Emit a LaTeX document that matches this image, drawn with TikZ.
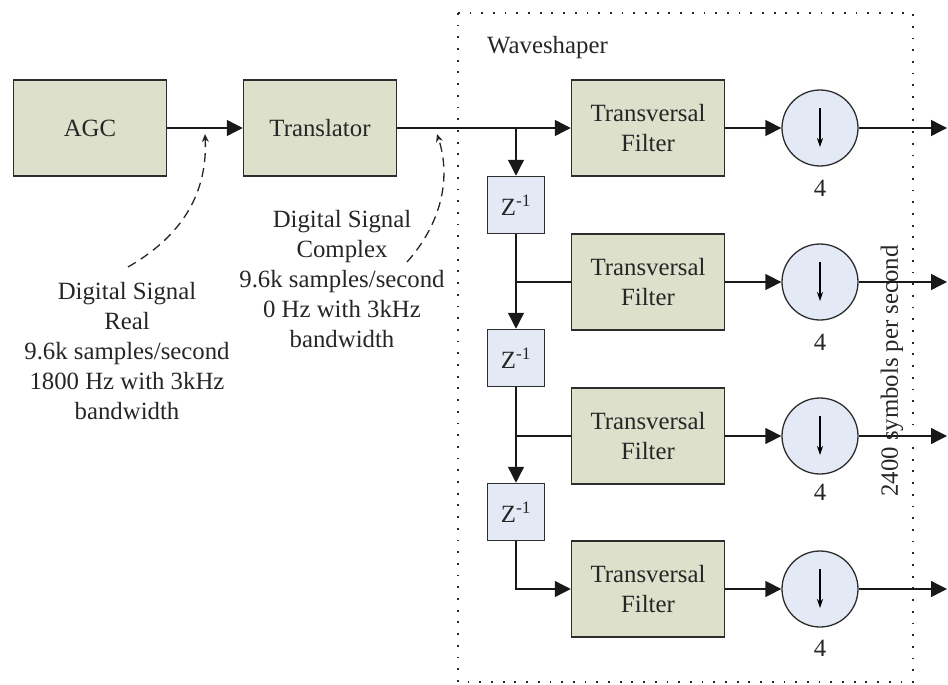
\documentclass[tikz,border=0pt]{standalone}
\usepackage{fontspec}
\setmainfont{Liberation Serif}
\usetikzlibrary{arrows.meta}
\definecolor{filtfill}{RGB}{221,225,203}
\definecolor{zfill}{RGB}{227,234,246}
\definecolor{edgec}{RGB}{45,45,45}
\begin{document}
\begin{tikzpicture}[x=1pt,y=-1pt,
  txt/.style={font=\fontsize{24.8}{30}\selectfont, text=black!85, inner sep=0pt},
  blk/.style={draw=edgec, line width=1.5pt, fill=filtfill, minimum width=153pt, minimum height=96pt, txt, align=center},
  zbox/.style={draw=edgec, line width=1.5pt, fill=zfill, minimum width=57pt, minimum height=57pt, txt},
  dec/.style={circle, draw=edgec, line width=1.3pt, fill=zfill, minimum size=76pt, inner sep=0pt},
  conn/.style={line width=1.4pt, draw=black!90},
  arr/.style={conn, -{Triangle[length=16pt,width=16pt]}},
  dots/.style={line width=1.8pt, dash pattern=on 1.8pt off 9.9pt, draw=black!85},
  callout/.style={line width=1.3pt, dash pattern=on 9pt off 6pt, draw=black!85, -{Stealth[length=8pt,width=7pt]}},
  down/.style={line width=1.1pt, -{Stealth[length=9pt,width=6pt]}}]
\useasboundingbox (0,0) rectangle (948,685);
% waveshaper frame
\coordinate (wa) at (458,13);
\coordinate (wb) at (913,682);
\draw[dots] (wa) rectangle (wb);
\node[txt, anchor=west] (ws) at (487,48) {Waveshaper};
% blocks
\node[blk] (agc) at (90,128) {AGC};
\node[blk] (tr) at (320,128) {Translator};
\node[blk] (f1) at (648,128) {Transversal\\Filter};
\node[blk] (f2) at (648,282) {Transversal\\Filter};
\node[blk] (f3) at (648,436) {Transversal\\Filter};
\node[blk] (f4) at (648,589) {Transversal\\Filter};
\node[zbox] (z1) at (516,205) {Z\textsuperscript{-1}};
\node[zbox] (z2) at (516,358) {Z\textsuperscript{-1}};
\node[zbox] (z3) at (516,512) {Z\textsuperscript{-1}};
\node[dec] (c1) at (820,128) {};
\node[dec] (c2) at (820,282) {};
\node[dec] (c3) at (820,436) {};
\node[dec] (c4) at (820,589) {};
\foreach \c in {c1,c2,c3,c4}{
  \draw[down] ([yshift=20pt]\c.center) -- ([yshift=-19pt]\c.center);
}
\node[txt] (n1) at (820,188) {4};
\node[txt] (n2) at (820,342) {4};
\node[txt] (n3) at (820,492) {4};
\node[txt] (n4) at (820,648) {4};
% junctions and outputs
\coordinate (j1) at (516,128);
\coordinate (j2) at (516,282);
\coordinate (j3) at (516,436);
\coordinate (o1) at (947,128);
\coordinate (o2) at (947,282);
\coordinate (o3) at (947,436);
\coordinate (o4) at (947,589);
% connectors
\draw[arr] (agc) -- (tr);
\draw[arr] (tr) -- (f1);
\draw[arr] (j1) -- (z1);
\draw[arr] (z1) -- (z2);
\draw[conn] (j2) -- (f2);
\draw[arr] (z2) -- (z3);
\draw[conn] (j3) -- (f3);
\draw[arr] (z3) |- (f4);
\draw[arr] (f1) -- (c1);
\draw[arr] (f2) -- (c2);
\draw[arr] (f3) -- (c3);
\draw[arr] (f4) -- (c4);
\draw[arr] (c1) -- (o1);
\draw[arr] (c2) -- (o2);
\draw[arr] (c3) -- (o3);
\draw[arr] (c4) -- (o4);
% rate label
\node[txt, rotate=90] (rate) at (892,371) {2400 symbols per second};
% annotations
\node[txt, align=center] (real) at (127,351.5) {Digital Signal\\Real\\9.6k samples/second\\1800 Hz with 3kHz\\bandwidth};
\node[txt, align=center] (cplx) at (342,279.5) {Digital Signal\\Complex\\9.6k samples/second\\0 Hz with 3kHz\\bandwidth};
\coordinate (e1) at (128,267);
\coordinate (t1) at (205,134);
\coordinate (e2) at (407,262);
\coordinate (t2) at (437,134);
\draw[callout] (e1) .. controls (175,240) and (208,200) .. (t1);
\draw[callout] (e2) .. controls (440,225) and (452,180) .. (t2);
\end{tikzpicture}
\end{document}
